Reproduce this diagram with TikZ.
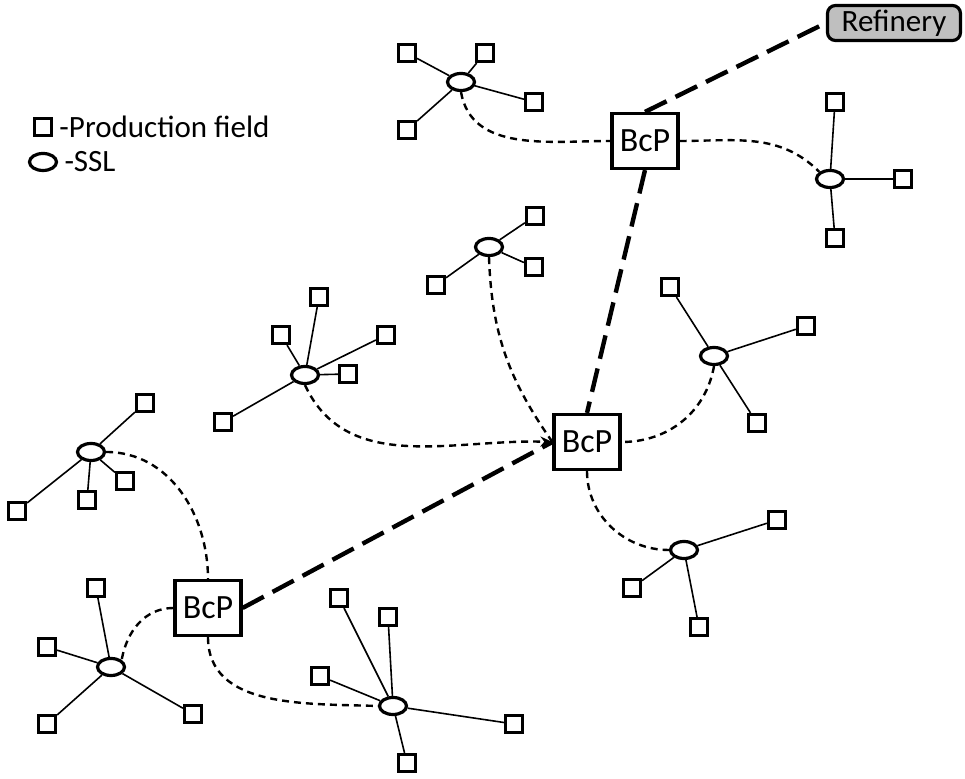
\documentclass[tikz,border=0pt]{standalone}
\usepackage{fontspec}
\setmainfont{Carlito}
\usetikzlibrary{shapes.geometric,positioning,arrows.meta}

\tikzset{
    field/.style={draw, line width=1.6pt, minimum size=8.5pt, inner sep=0pt},
    ssl/.style={draw, ellipse, line width=1.6pt, minimum width=13.5pt, minimum height=8.5pt, inner sep=0pt},
    hub/.style={draw, line width=1.6pt, minimum width=33pt, minimum height=27.5pt, inner sep=0pt,
        font=\fontsize{17}{20}\selectfont},
    plant/.style={draw, line width=1.6pt, fill=black!25, rounded corners=4pt, minimum width=66.5pt, minimum height=17.5pt, inner sep=0pt},
    spoke/.style={line width=0.8pt},
    link/.style={line width=1.2pt, dash pattern=on 3.5pt off 2.5pt},
    trunk/.style={line width=2.2pt, dash pattern=on 12pt off 5pt}
}

\begin{document}
\begin{tikzpicture}[x=0.5pt, y=-0.5pt, >={Stealth[length=6pt, width=5pt]}, font=\fontsize{15.5}{18}\selectfont]
    \useasboundingbox (0,0) rectangle (965,779);

    % Legend
    \node[field] (lgfield) at (43,127) {};
    \node[right=2pt of lgfield, inner sep=1pt] (lgfieldtxt) {-Production field};
    \node[ssl] (lgssl) at (43,162) {};
    \node[right=2pt of lgssl, inner sep=1pt] (lgssltxt) {-SSL};

    % Refinery and BcP
    \node[plant] (refinery) at (894,23) {Refinery};
    \node[hub] (hub1) at (645,141) {BcP};
    \node[hub] (hub2) at (587,442) {BcP};
    \node[hub] (hub3) at (208,608) {BcP};

    % SSL
    \foreach \name/\x/\y in {sslA/461/82, sslB/830/179, sslC/489/247, sslD/305/375,
        sslE/714/356, sslF/684/550, sslG/91/452, sslH/111/667, sslI/393/706}
        \node[ssl] (\name) at (\x,\y) {};

    % Production fields
    \foreach \name/\x/\y in {fA1/407/53, fA2/485/53, fA3/534/102, fA4/407/130,
        fB1/835/102, fB2/903/179, fB3/835/238,
        fC1/535/216, fC2/534/267, fC3/436/285,
        fD1/319/297, fD2/281/335, fD3/386/335, fD4/348/374, fD5/223/422,
        fE1/670/287, fE2/806/326, fE3/757/423,
        fF1/777/520, fF2/632/588, fF3/699/627,
        fG1/145/403, fG2/17/511, fG3/87/500, fG4/125/481,
        fH1/96/588, fH2/47/647, fH3/47/724, fH4/193/714,
        fI1/339/598, fI2/388/617, fI3/320/676, fI4/514/724, fI5/407/763}
        \node[field] (\name) at (\x,\y) {};

    % Spokes
    \foreach \s/\n in {A/4, B/3, C/3, D/5, E/3, F/3, G/4, H/4, I/5}
        \foreach \k in {1,...,\n}
            \draw[spoke] (ssl\s) -- (f\s\k);

    % SSL to BcP
    \draw[link] (sslA.south) to[out=-80, in=180] (hub1.west);
    \draw[link] (hub1.east) to[out=0, in=135] (sslB.north west);
    \draw[link] (sslC.south) to[out=-88, in=125] (hub2.west);
    \draw[link, ->] (sslD.south) to[out=-65, in=178] (hub2.west);
    \draw[link] (sslE.south) to[out=-100, in=0] (hub2.east);
    \draw[link] (hub2.south) to[out=-90, in=180] (sslF.west);
    \draw[link] (sslG.east) to[out=0, in=90] (hub3.north);
    \draw[link] (hub3.west) to[out=180, in=80] (sslH.north east);
    \draw[link] (hub3.south) to[out=-90, in=178] (sslI.west);

    % BcP to refinery
    \draw[trunk] (hub1.north) -- (refinery.west);
    \draw[trunk] (hub1.south) -- (hub2.north);
    \draw[trunk] (hub3.east) -- (hub2.west);
\end{tikzpicture}
\end{document}
